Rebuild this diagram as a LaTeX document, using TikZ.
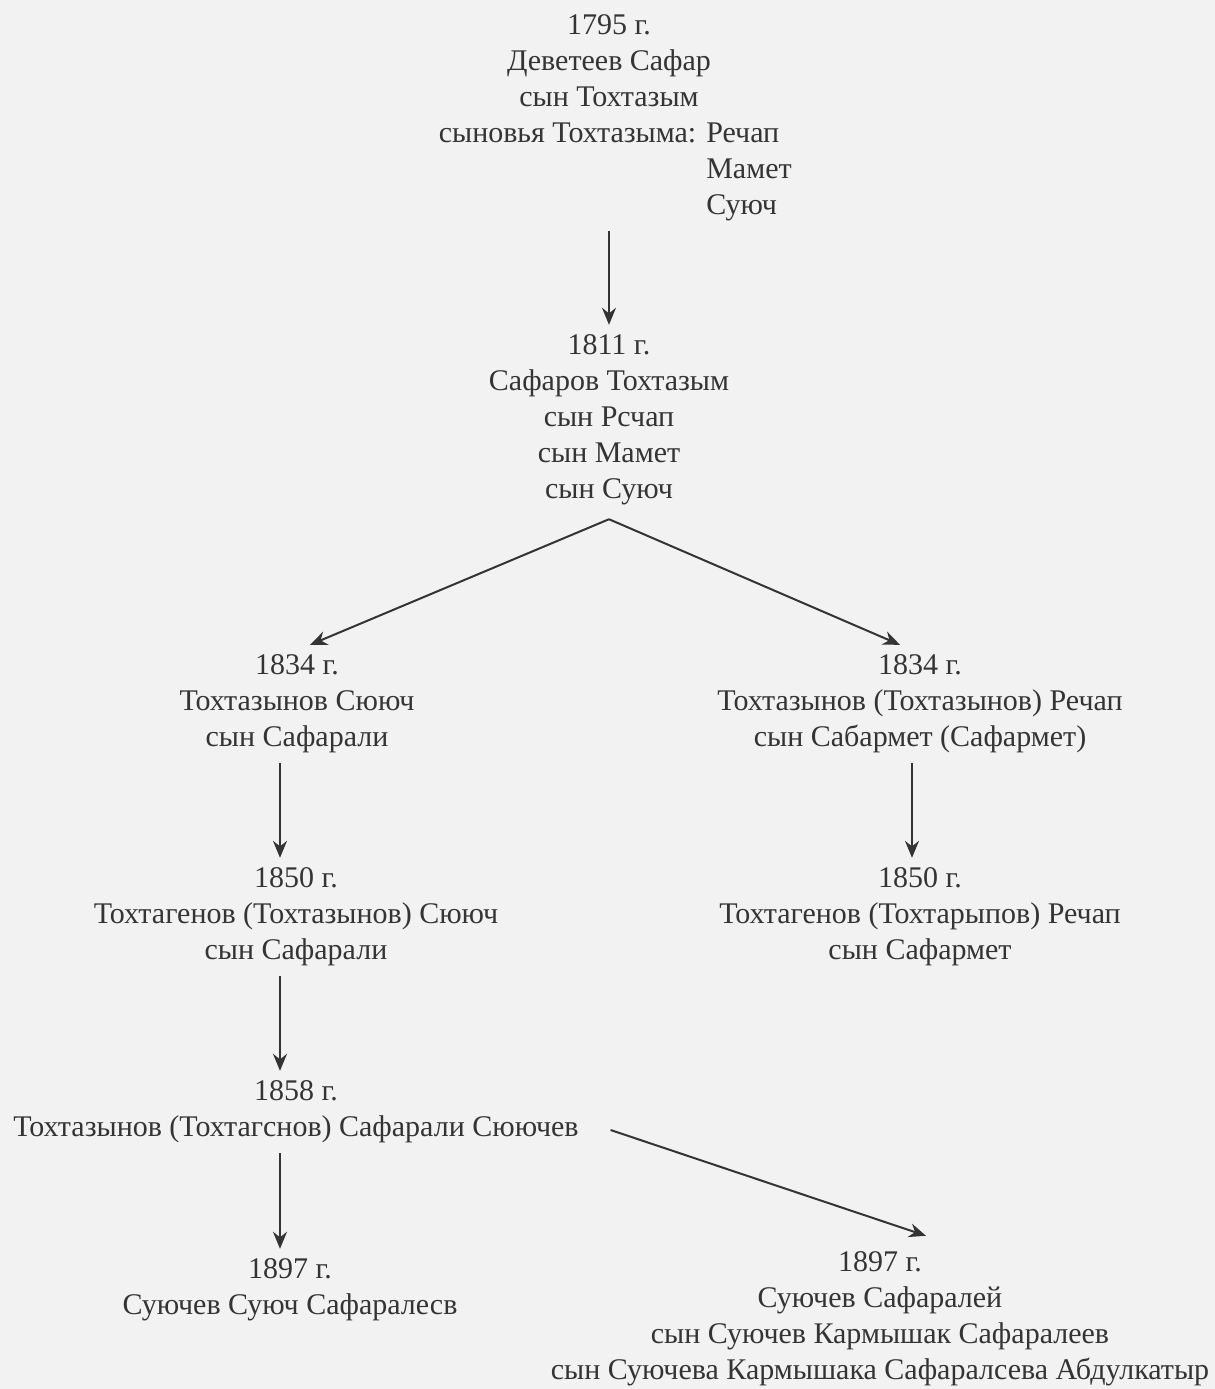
\documentclass[tikz,border=0pt]{standalone}
\usepackage{fontspec}
\setmainfont{Liberation Serif}
\usepackage{xcolor}
\usepackage{tikz}
\usetikzlibrary{arrows.meta, positioning, calc}
\definecolor{bggray}{RGB}{242,242,242}
\definecolor{inkgray}{RGB}{52,52,52}
\newcommand{\sonindent}[1]{\phantom{сыновья Тохтазыма: }\rlap{#1}\phantom{Речап}}

\begin{document}
\begin{tikzpicture}[
    x=0.5pt, y=-0.5pt,
    record/.style={inner sep=0pt, outer sep=5pt, align=center, text=inkgray, font=\fontsize{15}{18}\selectfont},
    arrow/.style={-{Stealth[length=8.5pt, width=7pt]}, line width=1pt, draw=inkgray}
]

% Background
\fill[bggray] (0,0) rectangle (1215,1389);
\useasboundingbox (0,0) rectangle (1215,1389);

% Columns
\coordinate (lcol) at (280,0);
\coordinate (rcol) at (912,0);

% 1795
\node[record] (gen1795) at (609,118) {1795 г.\\Деветеев Сафар\\сын Тохтазым\\сыновья Тохтазыма: Речап\\\sonindent{Мамет}\\\sonindent{Суюч}};

% 1811
\node[record] (gen1811) at (609,420) {1811 г.\\Сафаров Тохтазым\\сын Рсчап\\сын Мамет\\сын Суюч};

% 1834
\node[record] (left1834) at (297,704) {1834 г.\\Тохтазынов Сююч\\сын Сафарали};
\node[record] (right1834) at (920,704) {1834 г.\\Тохтазынов (Тохтазынов) Речап\\сын Сабармет (Сафармет)};

% 1850
\node[record] (left1850) at (296,917) {1850 г.\\Тохтагенов (Тохтазынов) Сююч\\сын Сафарали};
\node[record] (right1850) at (920,917) {1850 г.\\Тохтагенов (Тохтарыпов) Речап\\сын Сафармет};

% 1858
\node[record] (gen1858) at (296,1112) {1858 г.\\Тохтазынов (Тохтагснов) Сафарали Сюючев};

% 1897
\node[record] (left1897) at (290,1290) {1897 г.\\Суючев Суюч Сафаралесв};
\node[record] (right1897) at (880,1319) {1897 г.\\Суючев Сафаралей\\сын Суючев Кармышак Сафаралеев\\сын Суючева Кармышака Сафаралсева Абдулкатыр};

% Arrows
\draw[arrow] (gen1795) -- (gen1811);
\draw[arrow] ($(gen1811.south)+(0,4)$) -- ($(left1834.north)+(13,0)$);
\draw[arrow] ($(gen1811.south)+(0,4)$) -- ($(right1834.north)+(-20,0)$);
\draw[arrow] (left1834.south -| lcol) -- (left1850.north -| lcol);
\draw[arrow] (right1834.south -| rcol) -- (right1850.north -| rcol);
\draw[arrow] (left1850.south -| lcol) -- (gen1858.north -| lcol);
\draw[arrow] (gen1858.south -| lcol) -- (left1897.north -| lcol);
\draw[arrow] ($(gen1858.east)+(22,18)$) -- ($(right1897.north)+(46,-6)$);

\end{tikzpicture}
\end{document}
